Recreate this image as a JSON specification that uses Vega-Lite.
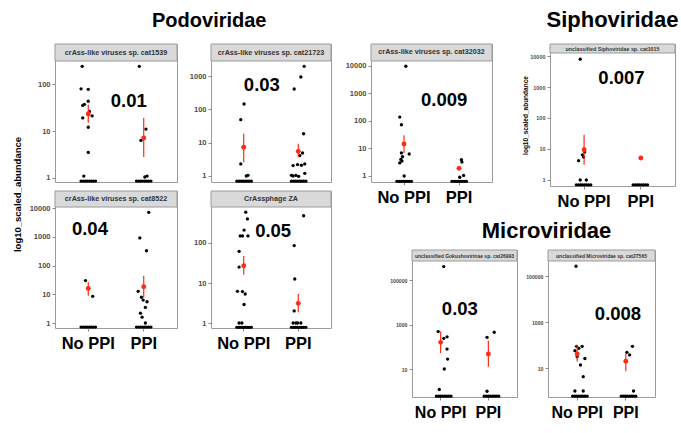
{
 "$schema": "https://vega.github.io/schema/vega-lite/v6.json",
 "padding": {"left": 12, "top": 8, "right": 0, "bottom": 0},
 "background": "white",
 "datasets": {
  "strips": [
   {"panel": "p1", "label": "crAss-like viruses sp. cat1539"},
   {"panel": "p2", "label": "crAss-like viruses sp. cat21723"},
   {"panel": "p3", "label": "crAss-like viruses sp. cat32032"},
   {"panel": "p4", "label": "unclassified Siphoviridae sp. cat1015"},
   {"panel": "p5", "label": "crAss-like viruses sp. cat8522"},
   {"panel": "p6", "label": "CrAssphage ZA"},
   {"panel": "p7", "label": "unclassified Gokushovirinae sp. cat26993"},
   {"panel": "p8", "label": "unclassified Microviridae sp. cat27565"}
  ],
  "means": [
   {"panel": "p1", "grp": "No PPI", "m": 23, "lo": 15, "hi": 36},
   {"panel": "p1", "grp": "PPI", "m": 7.1, "lo": 2.8, "hi": 19},
   {"panel": "p2", "grp": "No PPI", "m": 7.3, "lo": 2.6, "hi": 18.6},
   {"panel": "p2", "grp": "PPI", "m": 5.5, "lo": 3.7, "hi": 9.3},
   {"panel": "p3", "grp": "No PPI", "m": 14.5, "lo": 6.9, "hi": 30},
   {"panel": "p3", "grp": "PPI", "m": 1.9, "lo": 1.7, "hi": 2.1},
   {"panel": "p4", "grp": "No PPI", "m": 9.5, "lo": 3.1, "hi": 29},
   {"panel": "p4", "grp": "PPI", "m": 5.1, "lo": 5.0, "hi": 5.2},
   {"panel": "p5", "grp": "No PPI", "m": 16, "lo": 8.9, "hi": 27},
   {"panel": "p5", "grp": "PPI", "m": 18.4, "lo": 7.9, "hi": 44},
   {"panel": "p6", "grp": "No PPI", "m": 27, "lo": 16, "hi": 47},
   {"panel": "p6", "grp": "PPI", "m": 3.1, "lo": 1.85, "hi": 5.3},
   {"panel": "p7", "grp": "No PPI", "m": 158, "lo": 51, "hi": 480},
   {"panel": "p7", "grp": "PPI", "m": 47, "lo": 12.7, "hi": 187},
   {"panel": "p8", "grp": "No PPI", "m": 41, "lo": 19, "hi": 100},
   {"panel": "p8", "grp": "PPI", "m": 19.7, "lo": 7.2, "hi": 41}
  ],
  "pv": [
   {"panel": "p1", "grp": "PPI", "jit": -0.27, "val": 43, "label": "0.01"},
   {"panel": "p2", "grp": "No PPI", "jit": 0.32, "val": 540, "label": "0.03"},
   {"panel": "p3", "grp": "PPI", "jit": -0.27, "val": 580, "label": "0.009"},
   {"panel": "p4", "grp": "PPI", "jit": -0.34, "val": 1950, "label": "0.007"},
   {"panel": "p5", "grp": "No PPI", "jit": 0.03, "val": 1880, "label": "0.04"},
   {"panel": "p6", "grp": "PPI", "jit": -0.46, "val": 200, "label": "0.05"},
   {"panel": "p7", "grp": "PPI", "jit": -0.57, "val": 5000, "label": "0.03"},
   {"panel": "p8", "grp": "PPI", "jit": -0.19, "val": 2240, "label": "0.008"}
  ],
  "pts": [
   {"panel": "p1", "grp": "No PPI", "jit": -0.11, "val": 238},
   {"panel": "p1", "grp": "No PPI", "jit": -0.13, "val": 79},
   {"panel": "p1", "grp": "No PPI", "jit": 0.0, "val": 77},
   {"panel": "p1", "grp": "No PPI", "jit": 0.0, "val": 43},
   {"panel": "p1", "grp": "No PPI", "jit": -0.07, "val": 37},
   {"panel": "p1", "grp": "No PPI", "jit": -0.1, "val": 35},
   {"panel": "p1", "grp": "No PPI", "jit": 0.02, "val": 26},
   {"panel": "p1", "grp": "No PPI", "jit": 0.07, "val": 21},
   {"panel": "p1", "grp": "No PPI", "jit": -0.1, "val": 19},
   {"panel": "p1", "grp": "No PPI", "jit": 0.0, "val": 12},
   {"panel": "p1", "grp": "No PPI", "jit": 0.0, "val": 3.5},
   {"panel": "p1", "grp": "No PPI", "jit": -0.08, "val": 1.1},
   {"panel": "p1", "grp": "No PPI", "jit": -0.13, "val": 0.86},
   {"panel": "p1", "grp": "No PPI", "jit": -0.09, "val": 0.86},
   {"panel": "p1", "grp": "No PPI", "jit": -0.055, "val": 0.86},
   {"panel": "p1", "grp": "No PPI", "jit": -0.02, "val": 0.86},
   {"panel": "p1", "grp": "No PPI", "jit": 0.02, "val": 0.86},
   {"panel": "p1", "grp": "No PPI", "jit": 0.055, "val": 0.86},
   {"panel": "p1", "grp": "No PPI", "jit": 0.09, "val": 0.86},
   {"panel": "p1", "grp": "No PPI", "jit": 0.13, "val": 0.86},
   {"panel": "p1", "grp": "PPI", "jit": -0.08, "val": 238},
   {"panel": "p1", "grp": "PPI", "jit": 0.04, "val": 11},
   {"panel": "p1", "grp": "PPI", "jit": -0.05, "val": 6.3},
   {"panel": "p1", "grp": "PPI", "jit": 0.02, "val": 1.05},
   {"panel": "p1", "grp": "PPI", "jit": 0.06, "val": 1.1},
   {"panel": "p1", "grp": "PPI", "jit": -0.13, "val": 0.86},
   {"panel": "p1", "grp": "PPI", "jit": -0.09, "val": 0.86},
   {"panel": "p1", "grp": "PPI", "jit": -0.055, "val": 0.86},
   {"panel": "p1", "grp": "PPI", "jit": -0.02, "val": 0.86},
   {"panel": "p1", "grp": "PPI", "jit": 0.02, "val": 0.86},
   {"panel": "p1", "grp": "PPI", "jit": 0.055, "val": 0.86},
   {"panel": "p1", "grp": "PPI", "jit": 0.09, "val": 0.86},
   {"panel": "p1", "grp": "PPI", "jit": 0.13, "val": 0.86},

   {"panel": "p2", "grp": "No PPI", "jit": 0.0, "val": 145},
   {"panel": "p2", "grp": "No PPI", "jit": -0.06, "val": 49},
   {"panel": "p2", "grp": "No PPI", "jit": -0.06, "val": 2.3},
   {"panel": "p2", "grp": "No PPI", "jit": 0.04, "val": 1.0},
   {"panel": "p2", "grp": "No PPI", "jit": 0.07, "val": 1.05},
   {"panel": "p2", "grp": "No PPI", "jit": -0.13, "val": 0.7},
   {"panel": "p2", "grp": "No PPI", "jit": -0.09, "val": 0.7},
   {"panel": "p2", "grp": "No PPI", "jit": -0.055, "val": 0.7},
   {"panel": "p2", "grp": "No PPI", "jit": -0.02, "val": 0.7},
   {"panel": "p2", "grp": "No PPI", "jit": 0.02, "val": 0.7},
   {"panel": "p2", "grp": "No PPI", "jit": 0.055, "val": 0.7},
   {"panel": "p2", "grp": "No PPI", "jit": 0.09, "val": 0.7},
   {"panel": "p2", "grp": "No PPI", "jit": 0.13, "val": 0.7},
   {"panel": "p2", "grp": "PPI", "jit": 0.1, "val": 1960},
   {"panel": "p2", "grp": "PPI", "jit": 0.04, "val": 940},
   {"panel": "p2", "grp": "PPI", "jit": -0.08, "val": 410},
   {"panel": "p2", "grp": "PPI", "jit": 0.09, "val": 18.6},
   {"panel": "p2", "grp": "PPI", "jit": 0.07, "val": 4.9},
   {"panel": "p2", "grp": "PPI", "jit": 0.02, "val": 4.1},
   {"panel": "p2", "grp": "PPI", "jit": -0.1, "val": 2.05},
   {"panel": "p2", "grp": "PPI", "jit": -0.02, "val": 2.2},
   {"panel": "p2", "grp": "PPI", "jit": 0.05, "val": 2.1},
   {"panel": "p2", "grp": "PPI", "jit": 0.11, "val": 2.3},
   {"panel": "p2", "grp": "PPI", "jit": -0.1, "val": 1.0},
   {"panel": "p2", "grp": "PPI", "jit": -0.05, "val": 1.05},
   {"panel": "p2", "grp": "PPI", "jit": 0.0, "val": 0.98},
   {"panel": "p2", "grp": "PPI", "jit": 0.11, "val": 1.2},
   {"panel": "p2", "grp": "PPI", "jit": -0.13, "val": 1.05},
   {"panel": "p2", "grp": "PPI", "jit": -0.13, "val": 0.7},
   {"panel": "p2", "grp": "PPI", "jit": -0.09, "val": 0.7},
   {"panel": "p2", "grp": "PPI", "jit": -0.055, "val": 0.7},
   {"panel": "p2", "grp": "PPI", "jit": -0.02, "val": 0.7},
   {"panel": "p2", "grp": "PPI", "jit": 0.02, "val": 0.7},
   {"panel": "p2", "grp": "PPI", "jit": 0.055, "val": 0.7},
   {"panel": "p2", "grp": "PPI", "jit": 0.09, "val": 0.7},
   {"panel": "p2", "grp": "PPI", "jit": 0.13, "val": 0.7},

   {"panel": "p3", "grp": "No PPI", "jit": 0.03, "val": 9800},
   {"panel": "p3", "grp": "No PPI", "jit": -0.08, "val": 139},
   {"panel": "p3", "grp": "No PPI", "jit": -0.05, "val": 73},
   {"panel": "p3", "grp": "No PPI", "jit": -0.05, "val": 6.9},
   {"panel": "p3", "grp": "No PPI", "jit": 0.09, "val": 6.3},
   {"panel": "p3", "grp": "No PPI", "jit": -0.03, "val": 5},
   {"panel": "p3", "grp": "No PPI", "jit": -0.06, "val": 4},
   {"panel": "p3", "grp": "No PPI", "jit": -0.08, "val": 3},
   {"panel": "p3", "grp": "No PPI", "jit": -0.04, "val": 3.5},
   {"panel": "p3", "grp": "No PPI", "jit": 0.0, "val": 1.0},
   {"panel": "p3", "grp": "No PPI", "jit": -0.13, "val": 0.64},
   {"panel": "p3", "grp": "No PPI", "jit": -0.09, "val": 0.64},
   {"panel": "p3", "grp": "No PPI", "jit": -0.055, "val": 0.64},
   {"panel": "p3", "grp": "No PPI", "jit": -0.02, "val": 0.64},
   {"panel": "p3", "grp": "No PPI", "jit": 0.02, "val": 0.64},
   {"panel": "p3", "grp": "No PPI", "jit": 0.055, "val": 0.64},
   {"panel": "p3", "grp": "No PPI", "jit": 0.09, "val": 0.64},
   {"panel": "p3", "grp": "No PPI", "jit": 0.13, "val": 0.64},
   {"panel": "p3", "grp": "PPI", "jit": 0.04, "val": 3.9},
   {"panel": "p3", "grp": "PPI", "jit": 0.05, "val": 3.2},
   {"panel": "p3", "grp": "PPI", "jit": 0.08, "val": 1.05},
   {"panel": "p3", "grp": "PPI", "jit": 0.01, "val": 0.9},
   {"panel": "p3", "grp": "PPI", "jit": -0.13, "val": 0.64},
   {"panel": "p3", "grp": "PPI", "jit": -0.09, "val": 0.64},
   {"panel": "p3", "grp": "PPI", "jit": -0.055, "val": 0.64},
   {"panel": "p3", "grp": "PPI", "jit": -0.02, "val": 0.64},
   {"panel": "p3", "grp": "PPI", "jit": 0.02, "val": 0.64},
   {"panel": "p3", "grp": "PPI", "jit": 0.055, "val": 0.64},
   {"panel": "p3", "grp": "PPI", "jit": 0.09, "val": 0.64},
   {"panel": "p3", "grp": "PPI", "jit": 0.13, "val": 0.64},

   {"panel": "p4", "grp": "No PPI", "jit": -0.06, "val": 7900},
   {"panel": "p4", "grp": "No PPI", "jit": -0.09, "val": 4.2},
   {"panel": "p4", "grp": "No PPI", "jit": 0.0, "val": 5.5},
   {"panel": "p4", "grp": "No PPI", "jit": 0.02, "val": 8},
   {"panel": "p4", "grp": "No PPI", "jit": -0.02, "val": 6.5},
   {"panel": "p4", "grp": "No PPI", "jit": -0.06, "val": 1.0},
   {"panel": "p4", "grp": "No PPI", "jit": 0.05, "val": 1.0},
   {"panel": "p4", "grp": "No PPI", "jit": -0.13, "val": 0.7},
   {"panel": "p4", "grp": "No PPI", "jit": -0.09, "val": 0.7},
   {"panel": "p4", "grp": "No PPI", "jit": -0.055, "val": 0.7},
   {"panel": "p4", "grp": "No PPI", "jit": -0.02, "val": 0.7},
   {"panel": "p4", "grp": "No PPI", "jit": 0.02, "val": 0.7},
   {"panel": "p4", "grp": "No PPI", "jit": 0.055, "val": 0.7},
   {"panel": "p4", "grp": "No PPI", "jit": 0.09, "val": 0.7},
   {"panel": "p4", "grp": "No PPI", "jit": 0.13, "val": 0.7},
   {"panel": "p4", "grp": "PPI", "jit": 0.0, "val": 5.1},
   {"panel": "p4", "grp": "PPI", "jit": -0.13, "val": 0.7},
   {"panel": "p4", "grp": "PPI", "jit": -0.09, "val": 0.7},
   {"panel": "p4", "grp": "PPI", "jit": -0.055, "val": 0.7},
   {"panel": "p4", "grp": "PPI", "jit": -0.02, "val": 0.7},
   {"panel": "p4", "grp": "PPI", "jit": 0.02, "val": 0.7},
   {"panel": "p4", "grp": "PPI", "jit": 0.055, "val": 0.7},
   {"panel": "p4", "grp": "PPI", "jit": 0.09, "val": 0.7},
   {"panel": "p4", "grp": "PPI", "jit": 0.13, "val": 0.7},

   {"panel": "p5", "grp": "No PPI", "jit": -0.05, "val": 30},
   {"panel": "p5", "grp": "No PPI", "jit": 0.08, "val": 8.5},
   {"panel": "p5", "grp": "No PPI", "jit": -0.13, "val": 0.72},
   {"panel": "p5", "grp": "No PPI", "jit": -0.09, "val": 0.72},
   {"panel": "p5", "grp": "No PPI", "jit": -0.055, "val": 0.72},
   {"panel": "p5", "grp": "No PPI", "jit": -0.02, "val": 0.72},
   {"panel": "p5", "grp": "No PPI", "jit": 0.02, "val": 0.72},
   {"panel": "p5", "grp": "No PPI", "jit": 0.055, "val": 0.72},
   {"panel": "p5", "grp": "No PPI", "jit": 0.09, "val": 0.72},
   {"panel": "p5", "grp": "No PPI", "jit": 0.13, "val": 0.72},
   {"panel": "p5", "grp": "PPI", "jit": 0.09, "val": 7200},
   {"panel": "p5", "grp": "PPI", "jit": -0.07, "val": 920},
   {"panel": "p5", "grp": "PPI", "jit": 0.05, "val": 330},
   {"panel": "p5", "grp": "PPI", "jit": -0.1, "val": 12.7},
   {"panel": "p5", "grp": "PPI", "jit": -0.04, "val": 7.9},
   {"panel": "p5", "grp": "PPI", "jit": -0.01, "val": 6.3},
   {"panel": "p5", "grp": "PPI", "jit": 0.06, "val": 5.5},
   {"panel": "p5", "grp": "PPI", "jit": 0.03, "val": 3.5},
   {"panel": "p5", "grp": "PPI", "jit": -0.06, "val": 2.2},
   {"panel": "p5", "grp": "PPI", "jit": -0.03, "val": 1.6},
   {"panel": "p5", "grp": "PPI", "jit": 0.03, "val": 1.0},
   {"panel": "p5", "grp": "PPI", "jit": -0.13, "val": 0.72},
   {"panel": "p5", "grp": "PPI", "jit": -0.09, "val": 0.72},
   {"panel": "p5", "grp": "PPI", "jit": -0.055, "val": 0.72},
   {"panel": "p5", "grp": "PPI", "jit": -0.02, "val": 0.72},
   {"panel": "p5", "grp": "PPI", "jit": 0.02, "val": 0.72},
   {"panel": "p5", "grp": "PPI", "jit": 0.055, "val": 0.72},
   {"panel": "p5", "grp": "PPI", "jit": 0.09, "val": 0.72},
   {"panel": "p5", "grp": "PPI", "jit": 0.13, "val": 0.72},

   {"panel": "p6", "grp": "No PPI", "jit": 0.03, "val": 590},
   {"panel": "p6", "grp": "No PPI", "jit": 0.06, "val": 400},
   {"panel": "p6", "grp": "No PPI", "jit": 0.0, "val": 210},
   {"panel": "p6", "grp": "No PPI", "jit": -0.07, "val": 150},
   {"panel": "p6", "grp": "No PPI", "jit": -0.03, "val": 150},
   {"panel": "p6", "grp": "No PPI", "jit": 0.07, "val": 150},
   {"panel": "p6", "grp": "No PPI", "jit": -0.09, "val": 62},
   {"panel": "p6", "grp": "No PPI", "jit": -0.09, "val": 25},
   {"panel": "p6", "grp": "No PPI", "jit": -0.12, "val": 6.2},
   {"panel": "p6", "grp": "No PPI", "jit": -0.03, "val": 6.1},
   {"panel": "p6", "grp": "No PPI", "jit": 0.02, "val": 5.3},
   {"panel": "p6", "grp": "No PPI", "jit": 0.0, "val": 2.9},
   {"panel": "p6", "grp": "No PPI", "jit": -0.09, "val": 1.0},
   {"panel": "p6", "grp": "No PPI", "jit": -0.04, "val": 1.0},
   {"panel": "p6", "grp": "No PPI", "jit": -0.13, "val": 0.78},
   {"panel": "p6", "grp": "No PPI", "jit": -0.09, "val": 0.78},
   {"panel": "p6", "grp": "No PPI", "jit": -0.055, "val": 0.78},
   {"panel": "p6", "grp": "No PPI", "jit": -0.02, "val": 0.78},
   {"panel": "p6", "grp": "No PPI", "jit": 0.02, "val": 0.78},
   {"panel": "p6", "grp": "No PPI", "jit": 0.055, "val": 0.78},
   {"panel": "p6", "grp": "No PPI", "jit": 0.09, "val": 0.78},
   {"panel": "p6", "grp": "No PPI", "jit": 0.13, "val": 0.78},
   {"panel": "p6", "grp": "PPI", "jit": 0.09, "val": 480},
   {"panel": "p6", "grp": "PPI", "jit": -0.08, "val": 86},
   {"panel": "p6", "grp": "PPI", "jit": -0.07, "val": 12.6},
   {"panel": "p6", "grp": "PPI", "jit": -0.08, "val": 2.0},
   {"panel": "p6", "grp": "PPI", "jit": -0.1, "val": 1.0},
   {"panel": "p6", "grp": "PPI", "jit": -0.05, "val": 1.0},
   {"panel": "p6", "grp": "PPI", "jit": -0.02, "val": 1.0},
   {"panel": "p6", "grp": "PPI", "jit": 0.04, "val": 1.0},
   {"panel": "p6", "grp": "PPI", "jit": -0.13, "val": 0.78},
   {"panel": "p6", "grp": "PPI", "jit": -0.09, "val": 0.78},
   {"panel": "p6", "grp": "PPI", "jit": -0.055, "val": 0.78},
   {"panel": "p6", "grp": "PPI", "jit": -0.02, "val": 0.78},
   {"panel": "p6", "grp": "PPI", "jit": 0.02, "val": 0.78},
   {"panel": "p6", "grp": "PPI", "jit": 0.055, "val": 0.78},
   {"panel": "p6", "grp": "PPI", "jit": 0.09, "val": 0.78},
   {"panel": "p6", "grp": "PPI", "jit": 0.13, "val": 0.78},

   {"panel": "p7", "grp": "No PPI", "jit": 0.0, "val": 400000},
   {"panel": "p7", "grp": "No PPI", "jit": -0.1, "val": 480},
   {"panel": "p7", "grp": "No PPI", "jit": 0.06, "val": 280},
   {"panel": "p7", "grp": "No PPI", "jit": 0.0, "val": 240},
   {"panel": "p7", "grp": "No PPI", "jit": 0.06, "val": 79},
   {"panel": "p7", "grp": "No PPI", "jit": 0.07, "val": 28},
   {"panel": "p7", "grp": "No PPI", "jit": 0.01, "val": 10},
   {"panel": "p7", "grp": "No PPI", "jit": -0.08, "val": 1.2},
   {"panel": "p7", "grp": "No PPI", "jit": -0.13, "val": 0.6},
   {"panel": "p7", "grp": "No PPI", "jit": -0.09, "val": 0.6},
   {"panel": "p7", "grp": "No PPI", "jit": -0.055, "val": 0.6},
   {"panel": "p7", "grp": "No PPI", "jit": -0.02, "val": 0.6},
   {"panel": "p7", "grp": "No PPI", "jit": 0.02, "val": 0.6},
   {"panel": "p7", "grp": "No PPI", "jit": 0.055, "val": 0.6},
   {"panel": "p7", "grp": "No PPI", "jit": 0.09, "val": 0.6},
   {"panel": "p7", "grp": "No PPI", "jit": 0.13, "val": 0.6},
   {"panel": "p7", "grp": "PPI", "jit": -0.08, "val": 265},
   {"panel": "p7", "grp": "PPI", "jit": 0.05, "val": 450},
   {"panel": "p7", "grp": "PPI", "jit": -0.08, "val": 1.0},
   {"panel": "p7", "grp": "PPI", "jit": -0.13, "val": 0.6},
   {"panel": "p7", "grp": "PPI", "jit": -0.09, "val": 0.6},
   {"panel": "p7", "grp": "PPI", "jit": -0.055, "val": 0.6},
   {"panel": "p7", "grp": "PPI", "jit": -0.02, "val": 0.6},
   {"panel": "p7", "grp": "PPI", "jit": 0.02, "val": 0.6},
   {"panel": "p7", "grp": "PPI", "jit": 0.055, "val": 0.6},
   {"panel": "p7", "grp": "PPI", "jit": 0.09, "val": 0.6},
   {"panel": "p7", "grp": "PPI", "jit": 0.13, "val": 0.6},

   {"panel": "p8", "grp": "No PPI", "jit": -0.07, "val": 265000},
   {"panel": "p8", "grp": "No PPI", "jit": -0.06, "val": 88},
   {"panel": "p8", "grp": "No PPI", "jit": 0.04, "val": 88},
   {"panel": "p8", "grp": "No PPI", "jit": -0.02, "val": 72},
   {"panel": "p8", "grp": "No PPI", "jit": -0.09, "val": 57},
   {"panel": "p8", "grp": "No PPI", "jit": -0.05, "val": 31},
   {"panel": "p8", "grp": "No PPI", "jit": 0.09, "val": 26},
   {"panel": "p8", "grp": "No PPI", "jit": 0.01, "val": 13.5},
   {"panel": "p8", "grp": "No PPI", "jit": 0.06, "val": 4.2},
   {"panel": "p8", "grp": "No PPI", "jit": -0.09, "val": 1.0},
   {"panel": "p8", "grp": "No PPI", "jit": 0.06, "val": 1.0},
   {"panel": "p8", "grp": "No PPI", "jit": -0.13, "val": 0.6},
   {"panel": "p8", "grp": "No PPI", "jit": -0.09, "val": 0.6},
   {"panel": "p8", "grp": "No PPI", "jit": -0.055, "val": 0.6},
   {"panel": "p8", "grp": "No PPI", "jit": -0.02, "val": 0.6},
   {"panel": "p8", "grp": "No PPI", "jit": 0.02, "val": 0.6},
   {"panel": "p8", "grp": "No PPI", "jit": 0.055, "val": 0.6},
   {"panel": "p8", "grp": "No PPI", "jit": 0.09, "val": 0.6},
   {"panel": "p8", "grp": "No PPI", "jit": 0.13, "val": 0.6},
   {"panel": "p8", "grp": "PPI", "jit": -0.03, "val": 48},
   {"panel": "p8", "grp": "PPI", "jit": 0.07, "val": 88},
   {"panel": "p8", "grp": "PPI", "jit": 0.02, "val": 37},
   {"panel": "p8", "grp": "PPI", "jit": 0.09, "val": 1.0},
   {"panel": "p8", "grp": "PPI", "jit": -0.13, "val": 0.6},
   {"panel": "p8", "grp": "PPI", "jit": -0.09, "val": 0.6},
   {"panel": "p8", "grp": "PPI", "jit": -0.055, "val": 0.6},
   {"panel": "p8", "grp": "PPI", "jit": -0.02, "val": 0.6},
   {"panel": "p8", "grp": "PPI", "jit": 0.02, "val": 0.6},
   {"panel": "p8", "grp": "PPI", "jit": 0.055, "val": 0.6},
   {"panel": "p8", "grp": "PPI", "jit": 0.09, "val": 0.6},
   {"panel": "p8", "grp": "PPI", "jit": 0.13, "val": 0.6}
  ]
 },
 "spacing": 2,
 "hconcat": [
  {
   "width": 9, "height": 301,
   "view": {"stroke": null},
   "data": {"values": [{"t": "log10_scaled_abundance"}]},
   "mark": {"type": "text", "angle": 270, "fontSize": 9.5, "fontWeight": "bold", "color": "#000", "align": "center", "baseline": "middle"},
   "encoding": {"text": {"field": "t"}}
  },
  {
   "title": {"text": "Podoviridae", "anchor": "middle", "frame": "bounds", "dx": 31, "fontSize": 20, "offset": 12},
   "spacing": 6,
   "vconcat": [
    {"spacing": 2, "hconcat": [
     {"width": 122, "height": 138, "layer": [
      {"data": {"name": "strips"}, "transform": [{"filter": "datum.panel === 'p1'"}], "mark": {"type": "rect", "fill": "#d9d9d9", "stroke": "#9b9b9b", "strokeWidth": 1}, "encoding": {"y": {"datum": 308, "type": "quantitative"}, "y2": {"datum": 710}}},
      {"data": {"name": "strips"}, "transform": [{"filter": "datum.panel === 'p1'"}], "mark": {"type": "text", "fontSize": 7.2, "fontWeight": "bold", "color": "#333", "baseline": "middle"}, "encoding": {"y": {"datum": 468, "type": "quantitative"}, "text": {"field": "label"}}},
      {"data": {"name": "pts"}, "transform": [{"filter": "datum.panel === 'p1'"}], "mark": {"type": "circle", "size": 11, "color": "#000", "opacity": 1},
       "encoding": {
        "x": {"field": "grp", "type": "nominal", "scale": {"type": "band", "domain": ["No PPI", "PPI"], "paddingInner": 0.2, "paddingOuter": 0.2}, "axis": {"title": null, "labels": false, "ticks": false}},
        "xOffset": {"field": "jit", "type": "quantitative", "scale": {"domain": [-0.4, 0.4]}},
        "y": {"field": "val", "type": "quantitative", "scale": {"type": "log", "domain": [0.822, 710], "nice": false},
         "axis": {"title": null, "values": [1, 3.1623, 10, 31.623, 100], "format": "d", "labelFontSize": 7.5, "minExtent": 30, "maxExtent": 30,
          "labelExpr": "abs(log(datum.value)/LN10 - round(log(datum.value)/LN10)) < 0.01 ? datum.label : ''",
          "tickOpacity": {"condition": {"test": "abs(log(datum.value)/LN10 - round(log(datum.value)/LN10)) > 0.01", "value": 0}, "value": 1},
          "gridWidth": {"condition": {"test": "abs(log(datum.value)/LN10 - round(log(datum.value)/LN10)) > 0.01", "value": 0.5}, "value": 0.9},
          "gridColor": {"condition": {"test": "abs(log(datum.value)/LN10 - round(log(datum.value)/LN10)) > 0.01", "value": "#f0f0f0"}, "value": "#e3e3e3"}}}}},
      {"data": {"name": "means"}, "transform": [{"filter": "datum.panel === 'p1'"}], "mark": {"type": "rule", "color": "#ff2b14", "strokeWidth": 1.2}, "encoding": {"x": {"field": "grp", "type": "nominal"}, "y": {"field": "lo", "type": "quantitative"}, "y2": {"field": "hi"}}},
      {"data": {"name": "means"}, "transform": [{"filter": "datum.panel === 'p1'"}], "mark": {"type": "circle", "size": 24, "color": "#ff2b14", "opacity": 1}, "encoding": {"x": {"field": "grp", "type": "nominal"}, "y": {"field": "m", "type": "quantitative"}}},
      {"data": {"name": "pv"}, "transform": [{"filter": "datum.panel === 'p1'"}], "mark": {"type": "text", "fontSize": 18.5, "fontWeight": "bold", "color": "#000", "baseline": "middle"}, "encoding": {"x": {"field": "grp", "type": "nominal"}, "xOffset": {"field": "jit", "type": "quantitative"}, "y": {"field": "val", "type": "quantitative"}, "text": {"field": "label"}}}
     ]},
     {"width": 120, "height": 138, "layer": [
      {"data": {"name": "strips"}, "transform": [{"filter": "datum.panel === 'p2'"}], "mark": {"type": "rect", "fill": "#d9d9d9", "stroke": "#9b9b9b", "strokeWidth": 1}, "encoding": {"y": {"datum": 2840, "type": "quantitative"}, "y2": {"datum": 9200}}},
      {"data": {"name": "strips"}, "transform": [{"filter": "datum.panel === 'p2'"}], "mark": {"type": "text", "fontSize": 7.2, "fontWeight": "bold", "color": "#333", "baseline": "middle"}, "encoding": {"y": {"datum": 5110, "type": "quantitative"}, "text": {"field": "label"}}},
      {"data": {"name": "pts"}, "transform": [{"filter": "datum.panel === 'p2'"}], "mark": {"type": "circle", "size": 11, "color": "#000", "opacity": 1},
       "encoding": {
        "x": {"field": "grp", "type": "nominal", "scale": {"type": "band", "domain": ["No PPI", "PPI"], "paddingInner": 0.2, "paddingOuter": 0.2}, "axis": {"title": null, "labels": false, "ticks": false}},
        "xOffset": {"field": "jit", "type": "quantitative", "scale": {"domain": [-0.4, 0.4]}},
        "y": {"field": "val", "type": "quantitative", "scale": {"type": "log", "domain": [0.66, 9200], "nice": false},
         "axis": {"title": null, "values": [1, 3.1623, 10, 31.623, 100, 316.23, 1000], "format": "d", "labelFontSize": 7.5, "minExtent": 30, "maxExtent": 30,
          "labelExpr": "abs(log(datum.value)/LN10 - round(log(datum.value)/LN10)) < 0.01 ? datum.label : ''",
          "tickOpacity": {"condition": {"test": "abs(log(datum.value)/LN10 - round(log(datum.value)/LN10)) > 0.01", "value": 0}, "value": 1},
          "gridWidth": {"condition": {"test": "abs(log(datum.value)/LN10 - round(log(datum.value)/LN10)) > 0.01", "value": 0.5}, "value": 0.9},
          "gridColor": {"condition": {"test": "abs(log(datum.value)/LN10 - round(log(datum.value)/LN10)) > 0.01", "value": "#f0f0f0"}, "value": "#e3e3e3"}}}}},
      {"data": {"name": "means"}, "transform": [{"filter": "datum.panel === 'p2'"}], "mark": {"type": "rule", "color": "#ff2b14", "strokeWidth": 1.2}, "encoding": {"x": {"field": "grp", "type": "nominal"}, "y": {"field": "lo", "type": "quantitative"}, "y2": {"field": "hi"}}},
      {"data": {"name": "means"}, "transform": [{"filter": "datum.panel === 'p2'"}], "mark": {"type": "circle", "size": 24, "color": "#ff2b14", "opacity": 1}, "encoding": {"x": {"field": "grp", "type": "nominal"}, "y": {"field": "m", "type": "quantitative"}}},
      {"data": {"name": "pv"}, "transform": [{"filter": "datum.panel === 'p2'"}], "mark": {"type": "text", "fontSize": 18.5, "fontWeight": "bold", "color": "#000", "baseline": "middle"}, "encoding": {"x": {"field": "grp", "type": "nominal"}, "xOffset": {"field": "jit", "type": "quantitative"}, "y": {"field": "val", "type": "quantitative"}, "text": {"field": "label"}}}
     ]}
    ]},
    {"spacing": 2, "hconcat": [
     {"width": 122, "height": 137, "layer": [
      {"data": {"name": "strips"}, "transform": [{"filter": "datum.panel === 'p5'"}], "mark": {"type": "rect", "fill": "#d9d9d9", "stroke": "#9b9b9b", "strokeWidth": 1}, "encoding": {"y": {"datum": 11000, "type": "quantitative"}, "y2": {"datum": 39800}}},
      {"data": {"name": "strips"}, "transform": [{"filter": "datum.panel === 'p5'"}], "mark": {"type": "text", "fontSize": 7.2, "fontWeight": "bold", "color": "#333", "baseline": "middle"}, "encoding": {"y": {"datum": 20900, "type": "quantitative"}, "text": {"field": "label"}}},
      {"data": {"name": "pts"}, "transform": [{"filter": "datum.panel === 'p5'"}], "mark": {"type": "circle", "size": 11, "color": "#000", "opacity": 1},
       "encoding": {
        "x": {"field": "grp", "type": "nominal", "scale": {"type": "band", "domain": ["No PPI", "PPI"], "paddingInner": 0.2, "paddingOuter": 0.2}, "axis": {"title": null}},
        "xOffset": {"field": "jit", "type": "quantitative", "scale": {"domain": [-0.4, 0.4]}},
        "y": {"field": "val", "type": "quantitative", "scale": {"type": "log", "domain": [0.67, 39800], "nice": false},
         "axis": {"title": null, "values": [1, 3.1623, 10, 31.623, 100, 316.23, 1000, 3162.3, 10000], "format": "d", "labelFontSize": 7.5, "minExtent": 30, "maxExtent": 30,
          "labelExpr": "abs(log(datum.value)/LN10 - round(log(datum.value)/LN10)) < 0.01 ? datum.label : ''",
          "tickOpacity": {"condition": {"test": "abs(log(datum.value)/LN10 - round(log(datum.value)/LN10)) > 0.01", "value": 0}, "value": 1},
          "gridWidth": {"condition": {"test": "abs(log(datum.value)/LN10 - round(log(datum.value)/LN10)) > 0.01", "value": 0.5}, "value": 0.9},
          "gridColor": {"condition": {"test": "abs(log(datum.value)/LN10 - round(log(datum.value)/LN10)) > 0.01", "value": "#f0f0f0"}, "value": "#e3e3e3"}}}}},
      {"data": {"name": "means"}, "transform": [{"filter": "datum.panel === 'p5'"}], "mark": {"type": "rule", "color": "#ff2b14", "strokeWidth": 1.2}, "encoding": {"x": {"field": "grp", "type": "nominal"}, "y": {"field": "lo", "type": "quantitative"}, "y2": {"field": "hi"}}},
      {"data": {"name": "means"}, "transform": [{"filter": "datum.panel === 'p5'"}], "mark": {"type": "circle", "size": 24, "color": "#ff2b14", "opacity": 1}, "encoding": {"x": {"field": "grp", "type": "nominal"}, "y": {"field": "m", "type": "quantitative"}}},
      {"data": {"name": "pv"}, "transform": [{"filter": "datum.panel === 'p5'"}], "mark": {"type": "text", "fontSize": 18.5, "fontWeight": "bold", "color": "#000", "baseline": "middle"}, "encoding": {"x": {"field": "grp", "type": "nominal"}, "xOffset": {"field": "jit", "type": "quantitative"}, "y": {"field": "val", "type": "quantitative"}, "text": {"field": "label"}}}
     ]},
     {"width": 120, "height": 137, "layer": [
      {"data": {"name": "strips"}, "transform": [{"filter": "datum.panel === 'p6'"}], "mark": {"type": "rect", "fill": "#d9d9d9", "stroke": "#9b9b9b", "strokeWidth": 1}, "encoding": {"y": {"datum": 794, "type": "quantitative"}, "y2": {"datum": 1995}}},
      {"data": {"name": "strips"}, "transform": [{"filter": "datum.panel === 'p6'"}], "mark": {"type": "text", "fontSize": 7.2, "fontWeight": "bold", "color": "#333", "baseline": "middle"}, "encoding": {"y": {"datum": 1260, "type": "quantitative"}, "text": {"field": "label"}}},
      {"data": {"name": "pts"}, "transform": [{"filter": "datum.panel === 'p6'"}], "mark": {"type": "circle", "size": 11, "color": "#000", "opacity": 1},
       "encoding": {
        "x": {"field": "grp", "type": "nominal", "scale": {"type": "band", "domain": ["No PPI", "PPI"], "paddingInner": 0.2, "paddingOuter": 0.2}, "axis": {"title": null}},
        "xOffset": {"field": "jit", "type": "quantitative", "scale": {"domain": [-0.4, 0.4]}},
        "y": {"field": "val", "type": "quantitative", "scale": {"type": "log", "domain": [0.75, 1995], "nice": false},
         "axis": {"title": null, "values": [1, 3.1623, 10, 31.623, 100, 316.23], "format": "d", "labelFontSize": 7.5, "minExtent": 30, "maxExtent": 30,
          "labelExpr": "abs(log(datum.value)/LN10 - round(log(datum.value)/LN10)) < 0.01 ? datum.label : ''",
          "tickOpacity": {"condition": {"test": "abs(log(datum.value)/LN10 - round(log(datum.value)/LN10)) > 0.01", "value": 0}, "value": 1},
          "gridWidth": {"condition": {"test": "abs(log(datum.value)/LN10 - round(log(datum.value)/LN10)) > 0.01", "value": 0.5}, "value": 0.9},
          "gridColor": {"condition": {"test": "abs(log(datum.value)/LN10 - round(log(datum.value)/LN10)) > 0.01", "value": "#f0f0f0"}, "value": "#e3e3e3"}}}}},
      {"data": {"name": "means"}, "transform": [{"filter": "datum.panel === 'p6'"}], "mark": {"type": "rule", "color": "#ff2b14", "strokeWidth": 1.2}, "encoding": {"x": {"field": "grp", "type": "nominal"}, "y": {"field": "lo", "type": "quantitative"}, "y2": {"field": "hi"}}},
      {"data": {"name": "means"}, "transform": [{"filter": "datum.panel === 'p6'"}], "mark": {"type": "circle", "size": 24, "color": "#ff2b14", "opacity": 1}, "encoding": {"x": {"field": "grp", "type": "nominal"}, "y": {"field": "m", "type": "quantitative"}}},
      {"data": {"name": "pv"}, "transform": [{"filter": "datum.panel === 'p6'"}], "mark": {"type": "text", "fontSize": 18.5, "fontWeight": "bold", "color": "#000", "baseline": "middle"}, "encoding": {"x": {"field": "grp", "type": "nominal"}, "xOffset": {"field": "jit", "type": "quantitative"}, "y": {"field": "val", "type": "quantitative"}, "text": {"field": "label"}}}
     ]}
    ]}
   ]
  },
  {
   "spacing": 10,
   "vconcat": [
    {"spacing": 28, "hconcat": [
     {"width": 121, "height": 138, "layer": [
      {"data": {"name": "strips"}, "transform": [{"filter": "datum.panel === 'p3'"}], "mark": {"type": "rect", "fill": "#d9d9d9", "stroke": "#9b9b9b", "strokeWidth": 1}, "encoding": {"y": {"datum": 15200, "type": "quantitative"}, "y2": {"datum": 63000}}},
      {"data": {"name": "strips"}, "transform": [{"filter": "datum.panel === 'p3'"}], "mark": {"type": "text", "fontSize": 7.2, "fontWeight": "bold", "color": "#333", "baseline": "middle"}, "encoding": {"y": {"datum": 31000, "type": "quantitative"}, "text": {"field": "label"}}},
      {"data": {"name": "pts"}, "transform": [{"filter": "datum.panel === 'p3'"}], "mark": {"type": "circle", "size": 11, "color": "#000", "opacity": 1},
       "encoding": {
        "x": {"field": "grp", "type": "nominal", "scale": {"type": "band", "domain": ["No PPI", "PPI"], "paddingInner": 0.2, "paddingOuter": 0.2}, "axis": {"title": null}},
        "xOffset": {"field": "jit", "type": "quantitative", "scale": {"domain": [-0.4, 0.4]}},
        "y": {"field": "val", "type": "quantitative", "scale": {"type": "log", "domain": [0.605, 63000], "nice": false},
         "axis": {"title": null, "values": [1, 3.1623, 10, 31.623, 100, 316.23, 1000, 3162.3, 10000], "format": "d", "labelFontSize": 7.5, "minExtent": 36, "maxExtent": 36,
          "labelExpr": "abs(log(datum.value)/LN10 - round(log(datum.value)/LN10)) < 0.01 ? datum.label : ''",
          "tickOpacity": {"condition": {"test": "abs(log(datum.value)/LN10 - round(log(datum.value)/LN10)) > 0.01", "value": 0}, "value": 1},
          "gridWidth": {"condition": {"test": "abs(log(datum.value)/LN10 - round(log(datum.value)/LN10)) > 0.01", "value": 0.5}, "value": 0.9},
          "gridColor": {"condition": {"test": "abs(log(datum.value)/LN10 - round(log(datum.value)/LN10)) > 0.01", "value": "#f0f0f0"}, "value": "#e3e3e3"}}}}},
      {"data": {"name": "means"}, "transform": [{"filter": "datum.panel === 'p3'"}], "mark": {"type": "rule", "color": "#ff2b14", "strokeWidth": 1.2}, "encoding": {"x": {"field": "grp", "type": "nominal"}, "y": {"field": "lo", "type": "quantitative"}, "y2": {"field": "hi"}}},
      {"data": {"name": "means"}, "transform": [{"filter": "datum.panel === 'p3'"}], "mark": {"type": "circle", "size": 24, "color": "#ff2b14", "opacity": 1}, "encoding": {"x": {"field": "grp", "type": "nominal"}, "y": {"field": "m", "type": "quantitative"}}},
      {"data": {"name": "pv"}, "transform": [{"filter": "datum.panel === 'p3'"}], "mark": {"type": "text", "fontSize": 18.5, "fontWeight": "bold", "color": "#000", "baseline": "middle"}, "encoding": {"x": {"field": "grp", "type": "nominal"}, "xOffset": {"field": "jit", "type": "quantitative"}, "y": {"field": "val", "type": "quantitative"}, "text": {"field": "label"}}}
     ]},
     {"width": 125, "height": 142,
      "title": {"text": "Siphoviridae", "anchor": "middle", "frame": "group", "fontSize": 22, "offset": 12},
      "layer": [
      {"data": {"name": "strips"}, "transform": [{"filter": "datum.panel === 'p4'"}], "mark": {"type": "rect", "fill": "#d9d9d9", "stroke": "#9b9b9b", "strokeWidth": 1}, "encoding": {"y": {"datum": 12500, "type": "quantitative"}, "y2": {"datum": 24400}}},
      {"data": {"name": "strips"}, "transform": [{"filter": "datum.panel === 'p4'"}], "mark": {"type": "text", "fontSize": 5.3, "fontWeight": "bold", "color": "#333", "baseline": "middle"}, "encoding": {"y": {"datum": 17460, "type": "quantitative"}, "text": {"field": "label"}}},
      {"data": {"name": "pts"}, "transform": [{"filter": "datum.panel === 'p4'"}], "mark": {"type": "circle", "size": 11, "color": "#000", "opacity": 1},
       "encoding": {
        "x": {"field": "grp", "type": "nominal", "scale": {"type": "band", "domain": ["No PPI", "PPI"], "paddingInner": 0.2, "paddingOuter": 0.2}, "axis": {"title": null}},
        "xOffset": {"field": "jit", "type": "quantitative", "scale": {"domain": [-0.4, 0.4]}},
        "y": {"field": "val", "type": "quantitative", "scale": {"type": "log", "domain": [0.64, 24400], "nice": false},
         "axis": {"title": "log10_scaled_abundance", "titleFontSize": 6.5, "titleFontWeight": "bold", "titleColor": "#000", "titlePadding": 2, "values": [1, 3.1623, 10, 31.623, 100, 316.23, 1000, 3162.3, 10000], "format": "d", "labelFontSize": 5.5, "minExtent": 20, "maxExtent": 20,
          "labelExpr": "abs(log(datum.value)/LN10 - round(log(datum.value)/LN10)) < 0.01 ? datum.label : ''",
          "tickOpacity": {"condition": {"test": "abs(log(datum.value)/LN10 - round(log(datum.value)/LN10)) > 0.01", "value": 0}, "value": 1},
          "gridWidth": {"condition": {"test": "abs(log(datum.value)/LN10 - round(log(datum.value)/LN10)) > 0.01", "value": 0.5}, "value": 0.9},
          "gridColor": {"condition": {"test": "abs(log(datum.value)/LN10 - round(log(datum.value)/LN10)) > 0.01", "value": "#f0f0f0"}, "value": "#e3e3e3"}}}}},
      {"data": {"name": "means"}, "transform": [{"filter": "datum.panel === 'p4'"}], "mark": {"type": "rule", "color": "#ff2b14", "strokeWidth": 1.2}, "encoding": {"x": {"field": "grp", "type": "nominal"}, "y": {"field": "lo", "type": "quantitative"}, "y2": {"field": "hi"}}},
      {"data": {"name": "means"}, "transform": [{"filter": "datum.panel === 'p4'"}], "mark": {"type": "circle", "size": 24, "color": "#ff2b14", "opacity": 1}, "encoding": {"x": {"field": "grp", "type": "nominal"}, "y": {"field": "m", "type": "quantitative"}}},
      {"data": {"name": "pv"}, "transform": [{"filter": "datum.panel === 'p4'"}], "mark": {"type": "text", "fontSize": 18.5, "fontWeight": "bold", "color": "#000", "baseline": "middle"}, "encoding": {"x": {"field": "grp", "type": "nominal"}, "xOffset": {"field": "jit", "type": "quantitative"}, "y": {"field": "val", "type": "quantitative"}, "text": {"field": "label"}}}
     ]}
    ]},
    {"spacing": 4,
     "title": {"text": "Microviridae", "anchor": "middle", "frame": "bounds", "dx": 33, "fontSize": 22, "offset": 6},
     "hconcat": [
     {"width": 11, "height": 10, "view": {"stroke": null}, "data": {"values": []}, "mark": "point"},
     {"width": 105, "height": 147, "layer": [
      {"data": {"name": "strips"}, "transform": [{"filter": "datum.panel === 'p7'"}], "mark": {"type": "rect", "fill": "#d9d9d9", "stroke": "#9b9b9b", "strokeWidth": 1}, "encoding": {"y": {"datum": 714000, "type": "quantitative"}, "y2": {"datum": 2230000}}},
      {"data": {"name": "strips"}, "transform": [{"filter": "datum.panel === 'p7'"}], "mark": {"type": "text", "fontSize": 5.0, "fontWeight": "bold", "color": "#333", "baseline": "middle"}, "encoding": {"y": {"datum": 1260000, "type": "quantitative"}, "text": {"field": "label"}}},
      {"data": {"name": "pts"}, "transform": [{"filter": "datum.panel === 'p7'"}], "mark": {"type": "circle", "size": 11, "color": "#000", "opacity": 1},
       "encoding": {
        "x": {"field": "grp", "type": "nominal", "scale": {"type": "band", "domain": ["No PPI", "PPI"], "paddingInner": 0.2, "paddingOuter": 0.2}, "axis": {"title": null, "labelFontSize": 16}},
        "xOffset": {"field": "jit", "type": "quantitative", "scale": {"domain": [-0.4, 0.4]}},
        "y": {"field": "val", "type": "quantitative", "scale": {"type": "log", "domain": [0.552, 2230000], "nice": false},
         "axis": {"title": null, "values": [1, 10, 100, 1000, 10000, 100000], "format": "d", "labelFontSize": 5.2, "minExtent": 25, "maxExtent": 25,
          "labelExpr": "round(log(datum.value)/LN10) % 2 == 1 ? datum.label : ''",
          "tickOpacity": {"condition": {"test": "round(log(datum.value)/LN10) % 2 == 0", "value": 0}, "value": 1},
          "gridWidth": {"condition": {"test": "round(log(datum.value)/LN10) % 2 == 0", "value": 0.5}, "value": 0.9},
          "gridColor": {"condition": {"test": "round(log(datum.value)/LN10) % 2 == 0", "value": "#f0f0f0"}, "value": "#e3e3e3"}}}}},
      {"data": {"name": "means"}, "transform": [{"filter": "datum.panel === 'p7'"}], "mark": {"type": "rule", "color": "#ff2b14", "strokeWidth": 1.2}, "encoding": {"x": {"field": "grp", "type": "nominal"}, "y": {"field": "lo", "type": "quantitative"}, "y2": {"field": "hi"}}},
      {"data": {"name": "means"}, "transform": [{"filter": "datum.panel === 'p7'"}], "mark": {"type": "circle", "size": 24, "color": "#ff2b14", "opacity": 1}, "encoding": {"x": {"field": "grp", "type": "nominal"}, "y": {"field": "m", "type": "quantitative"}}},
      {"data": {"name": "pv"}, "transform": [{"filter": "datum.panel === 'p7'"}], "mark": {"type": "text", "fontSize": 18.5, "fontWeight": "bold", "color": "#000", "baseline": "middle"}, "encoding": {"x": {"field": "grp", "type": "nominal"}, "xOffset": {"field": "jit", "type": "quantitative"}, "y": {"field": "val", "type": "quantitative"}, "text": {"field": "label"}}}
     ]},
     {"width": 107, "height": 147, "layer": [
      {"data": {"name": "strips"}, "transform": [{"filter": "datum.panel === 'p8'"}], "mark": {"type": "rect", "fill": "#d9d9d9", "stroke": "#9b9b9b", "strokeWidth": 1}, "encoding": {"y": {"datum": 449000, "type": "quantitative"}, "y2": {"datum": 1350000}}},
      {"data": {"name": "strips"}, "transform": [{"filter": "datum.panel === 'p8'"}], "mark": {"type": "text", "fontSize": 5.0, "fontWeight": "bold", "color": "#333", "baseline": "middle"}, "encoding": {"y": {"datum": 778000, "type": "quantitative"}, "text": {"field": "label"}}},
      {"data": {"name": "pts"}, "transform": [{"filter": "datum.panel === 'p8'"}], "mark": {"type": "circle", "size": 11, "color": "#000", "opacity": 1},
       "encoding": {
        "x": {"field": "grp", "type": "nominal", "scale": {"type": "band", "domain": ["No PPI", "PPI"], "paddingInner": 0.2, "paddingOuter": 0.2}, "axis": {"title": null, "labelFontSize": 16}},
        "xOffset": {"field": "jit", "type": "quantitative", "scale": {"domain": [-0.4, 0.4]}},
        "y": {"field": "val", "type": "quantitative", "scale": {"type": "log", "domain": [0.55, 1350000], "nice": false},
         "axis": {"title": null, "values": [1, 10, 100, 1000, 10000, 100000], "format": "d", "labelFontSize": 5.2, "minExtent": 25, "maxExtent": 25,
          "labelExpr": "round(log(datum.value)/LN10) % 2 == 1 ? datum.label : ''",
          "tickOpacity": {"condition": {"test": "round(log(datum.value)/LN10) % 2 == 0", "value": 0}, "value": 1},
          "gridWidth": {"condition": {"test": "round(log(datum.value)/LN10) % 2 == 0", "value": 0.5}, "value": 0.9},
          "gridColor": {"condition": {"test": "round(log(datum.value)/LN10) % 2 == 0", "value": "#f0f0f0"}, "value": "#e3e3e3"}}}}},
      {"data": {"name": "means"}, "transform": [{"filter": "datum.panel === 'p8'"}], "mark": {"type": "rule", "color": "#ff2b14", "strokeWidth": 1.2}, "encoding": {"x": {"field": "grp", "type": "nominal"}, "y": {"field": "lo", "type": "quantitative"}, "y2": {"field": "hi"}}},
      {"data": {"name": "means"}, "transform": [{"filter": "datum.panel === 'p8'"}], "mark": {"type": "circle", "size": 24, "color": "#ff2b14", "opacity": 1}, "encoding": {"x": {"field": "grp", "type": "nominal"}, "y": {"field": "m", "type": "quantitative"}}},
      {"data": {"name": "pv"}, "transform": [{"filter": "datum.panel === 'p8'"}], "mark": {"type": "text", "fontSize": 18.5, "fontWeight": "bold", "color": "#000", "baseline": "middle"}, "encoding": {"x": {"field": "grp", "type": "nominal"}, "xOffset": {"field": "jit", "type": "quantitative"}, "y": {"field": "val", "type": "quantitative"}, "text": {"field": "label"}}}
     ]}
    ]}
   ]
  }
 ],
 "config": {
  "font": "Liberation Sans",
  "view": {"stroke": "#9b9b9b", "strokeWidth": 1},
  "axis": {"domain": false, "tickColor": "#8a8a8a", "tickSize": 3, "gridColor": "#e3e3e3", "gridWidth": 0.9, "labelFont": "Liberation Sans", "titleFont": "Liberation Sans"},
  "axisX": {"labelFontSize": 16.5, "labelFontWeight": "bold", "labelColor": "#000", "labelAngle": 0, "labelPadding": 4},
  "axisY": {"labelFontWeight": "bold", "labelColor": "#4d4d4d", "labelPadding": 2},
  "title": {"font": "Liberation Sans", "fontWeight": "bold", "color": "#000"}
 }
}
